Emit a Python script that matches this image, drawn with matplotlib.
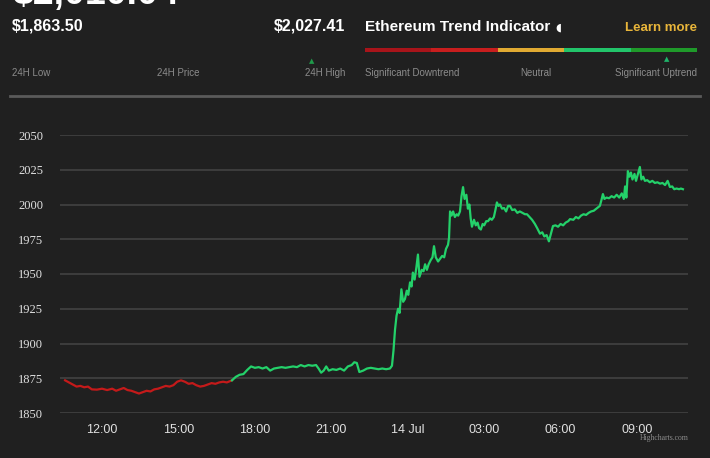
import matplotlib
matplotlib.use("Agg")
import matplotlib.pyplot as plt
from matplotlib.ticker import FixedLocator, FixedFormatter

# price series, hours counted from 13 Jul 00:00
red_hours = [10.55, 10.7, 10.85, 11.0, 11.15, 11.3, 11.45, 11.6, 11.8, 12.0, 12.2, 12.4,
             12.55, 12.7, 12.85, 13.0, 13.15, 13.3, 13.45, 13.6, 13.75, 13.9, 14.05, 14.2,
             14.35, 14.5, 14.65, 14.8, 14.95, 15.1, 15.25, 15.4, 15.55, 15.7, 15.85, 16.0,
             16.15, 16.3, 16.45, 16.6, 16.75, 16.9, 17.1]
red_prices = [1873.5, 1872, 1870.5, 1869, 1869.5, 1868.5, 1869, 1867, 1866.8, 1867.5, 1866.5, 1867.5,
              1866, 1867, 1868, 1866.5, 1866, 1865, 1864, 1865, 1866, 1865.5, 1867, 1867.5,
              1868.5, 1869.5, 1869, 1870, 1872.5, 1873.5, 1872.5, 1871, 1871.5, 1870, 1869, 1869.5,
              1870.5, 1871.5, 1871, 1872, 1872.5, 1872, 1873.5]

green_hours = [17.1, 17.25, 17.4, 17.55, 17.7, 17.85, 18.0, 18.15, 18.3, 18.45, 18.6, 18.75,
               18.9, 19.05, 19.2, 19.35, 19.5, 19.65, 19.8, 19.95, 20.1, 20.25, 20.4, 20.5,
               20.6, 20.7, 20.8, 20.9, 21.05, 21.2, 21.35, 21.5, 21.65, 21.8, 21.9, 22.0,
               22.1, 22.25, 22.4, 22.55, 22.7, 22.85, 23.0, 23.15, 23.3, 23.38, 23.44, 23.5,
               23.56, 23.62, 23.68, 23.75, 23.82, 23.89, 23.96, 24.02, 24.09, 24.15, 24.2, 24.27,
               24.34, 24.4, 24.46, 24.55, 24.62, 24.68, 24.75, 24.82, 24.9, 24.97, 25.03, 25.1,
               25.19, 25.27, 25.35, 25.43, 25.5, 25.58, 25.62, 25.66, 25.72, 25.78, 25.85, 25.92,
               25.98, 26.05, 26.11, 26.17, 26.23, 26.3, 26.36, 26.42, 26.47, 26.52, 26.6, 26.67,
               26.74, 26.8, 26.87, 26.94, 27.0, 27.08, 27.15, 27.23, 27.3, 27.38, 27.44, 27.5,
               27.56, 27.62, 27.7, 27.78, 27.86, 27.94, 28.01, 28.1, 28.2, 28.3, 28.4, 28.5,
               28.6, 28.68, 28.78, 28.88, 28.99, 29.08, 29.19, 29.28, 29.36, 29.45, 29.54, 29.62,
               29.7, 29.8, 29.9, 30.0, 30.1, 30.2, 30.3, 30.37, 30.5, 30.6, 30.7, 30.8,
               30.9, 31.0, 31.1, 31.2, 31.3, 31.4, 31.5, 31.54, 31.6, 31.66, 31.72, 31.8,
               31.9, 32.0, 32.1, 32.2, 32.3, 32.4, 32.48, 32.53, 32.58, 32.64, 32.7, 32.76,
               32.82, 32.9, 32.96, 33.02, 33.11, 33.17, 33.24, 33.31, 33.4, 33.5, 33.6, 33.7,
               33.8, 33.9, 34.0, 34.1, 34.2, 34.29, 34.38, 34.46, 34.55, 34.65, 34.72, 34.8]
green_prices = [1873.5, 1876, 1877.5, 1878, 1881, 1883.5, 1882.5, 1883, 1882, 1883, 1880.5, 1882,
                1882.5, 1883, 1882.5, 1883, 1883.5, 1883, 1884.5, 1883.5, 1884.5, 1884, 1884.5, 1882,
                1879, 1880.5, 1883.5, 1880.5, 1881.5, 1881, 1882, 1880.5, 1883.5, 1884.5, 1886.5, 1886,
                1879.5, 1880.5, 1882, 1882.5, 1882, 1881.5, 1882, 1881.5, 1882, 1884, 1895, 1910,
                1920, 1925, 1922, 1939, 1930, 1932, 1938, 1935, 1944, 1941, 1951, 1946,
                1955, 1964, 1948, 1953, 1952, 1957, 1953, 1957, 1960, 1962, 1970, 1962,
                1959, 1961, 1963, 1962, 1968, 1971, 1976, 1995, 1992, 1995, 1991, 1993,
                1992, 1995, 2006, 2012.5, 2004, 2007, 1997, 2000, 1990, 1984, 1989, 1985,
                1987, 1983, 1982, 1986, 1985, 1988, 1988, 1990, 1989, 1991, 1996, 2001.5,
                1999, 2000, 1997, 1997.5, 1995, 1999, 1999, 1996, 1996.5, 1994, 1995, 1994,
                1993, 1993, 1991, 1989, 1986, 1983, 1979, 1980, 1977, 1978, 1973.5, 1979,
                1984.5, 1985, 1984, 1986, 1985, 1987, 1988, 1989.5, 1989, 1991, 1990, 1992,
                1993, 1992.5, 1994, 1995, 1995.5, 1997, 1998.5, 1999, 2003, 2007.5, 2004, 2005,
                2004.5, 2006, 2005, 2007, 2005, 2008, 2004, 2013, 2005, 2024, 2020, 2023,
                2018, 2022, 2017, 2021, 2027, 2018, 2020, 2017, 2017.5, 2016, 2017, 2015.5,
                2016, 2015, 2015.5, 2014, 2017, 2012.6, 2013, 2011, 2011.5, 2011, 2011.5, 2011]

x_ticks = [12, 15, 18, 21, 24, 27, 30, 33]
x_labels = ["12:00", "15:00", "18:00", "21:00", "14 Jul", "03:00", "06:00", "09:00"]
y_ticks = [1850, 1875, 1900, 1925, 1950, 1975, 2000, 2025, 2050]

bar_colors = ["#a8141a", "#c81e1e", "#e0aa32", "#22c46a", "#1f9a2a"]

BG = "#202020"
W, H = 710, 458

fig = plt.figure(figsize=(W / 100, H / 100), dpi=100, facecolor=BG)


def px(x, y):
    return x / W, 1 - y / H


sans = ["Liberation Sans", "DejaVu Sans"]
grey = "#8c8c8c"

# ---- header ----
# big current price, cut off by the top edge as in the screenshot
fig.text(*px(12, 4), "$2,010.04", color="white", fontsize=27, fontweight="bold",
         family=sans, va="baseline", ha="left")
fig.text(*px(12, 26), "$1,863.50", color="white", fontsize=11.5, fontweight="bold",
         family=sans, va="center", ha="left")
fig.text(*px(345, 26), "$2,027.41", color="white", fontsize=11.5, fontweight="bold",
         family=sans, va="center", ha="right")
fig.text(*px(12, 73), "24H Low", color=grey, fontsize=7, family=sans, va="center", ha="left")
fig.text(*px(178, 73), "24H Price", color=grey, fontsize=7, family=sans, va="center", ha="center")
fig.text(*px(345, 73), "24H High", color=grey, fontsize=7, family=sans, va="center", ha="right")
fig.text(*px(312, 61), "\u25b2", color="#1f9a4a", fontsize=5, family=["DejaVu Sans"],
         va="center", ha="center")

fig.text(*px(365, 27), "Ethereum Trend Indicator", color="white", fontsize=11, fontweight="bold",
         family=sans, va="center", ha="left")
fig.text(*px(558, 28), "\u25d6", color="white", fontsize=8, family=["DejaVu Sans"], va="center", ha="center")
fig.text(*px(697, 28), "Learn more", color="#e8b53a", fontsize=9.5, fontweight="bold",
         family=sans, va="center", ha="right")

bar_ax = fig.add_axes([365 / W, 1 - 52 / H, (697 - 365) / W, 4 / H])
bar_ax.barh(0, [1] * 5, left=range(5), height=1, color=bar_colors)
bar_ax.set_xlim(0, 5)
bar_ax.set_ylim(-0.5, 0.5)
bar_ax.axis("off")

fig.text(*px(667, 59), "\u25b2", color="#1fb46a", fontsize=5, family=["DejaVu Sans"],
         va="center", ha="center")
fig.text(*px(365, 73), "Significant Downtrend", color=grey, fontsize=7, family=sans,
         va="center", ha="left")
fig.text(*px(536, 73), "Neutral", color=grey, fontsize=7, family=sans, va="center", ha="center")
fig.text(*px(697, 73), "Significant Uptrend", color=grey, fontsize=7, family=sans,
         va="center", ha="right")

fig.add_artist(plt.Line2D([10 / W, 700 / W], [1 - 96 / H, 1 - 96 / H], color="#5a5a5a", lw=2))

# ---- chart ----
ax = fig.add_axes([60 / W, 1 - 413 / H, (688 - 60) / W, (413 - 135) / H])
ax.set_facecolor(BG)
ax.plot(red_hours, red_prices, color="#c41a1a", lw=1.6, solid_joinstyle="round")
ax.plot(green_hours, green_prices, color="#24d16a", lw=1.6, solid_joinstyle="round")

ax.set_xlim(10.35, 35.0)
ax.set_ylim(1850, 2050)
ax.yaxis.set_major_locator(FixedLocator(y_ticks))
ax.xaxis.set_major_locator(FixedLocator(x_ticks))
ax.xaxis.set_major_formatter(FixedFormatter(x_labels))
ax.grid(axis="y", color="#424242", lw=1.2)
ax.set_axisbelow(True)
for s in ax.spines.values():
    s.set_visible(False)
ax.tick_params(axis="both", length=0, colors="#e0e0e0")
ax.tick_params(axis="y", pad=12)
ax.tick_params(axis="x", pad=8)
for lab in ax.get_yticklabels():
    lab.set_family(["Liberation Serif", "DejaVu Serif"])
    lab.set_fontsize(9)
for lab in ax.get_xticklabels():
    lab.set_family(sans)
    lab.set_fontsize(9)

fig.text(*px(689, 438), "Highcharts.com", color=grey, fontsize=5.5,
         family=["Liberation Serif", "DejaVu Serif"], va="center", ha="right")

fig.savefig("out.png", dpi=100, facecolor=BG)
